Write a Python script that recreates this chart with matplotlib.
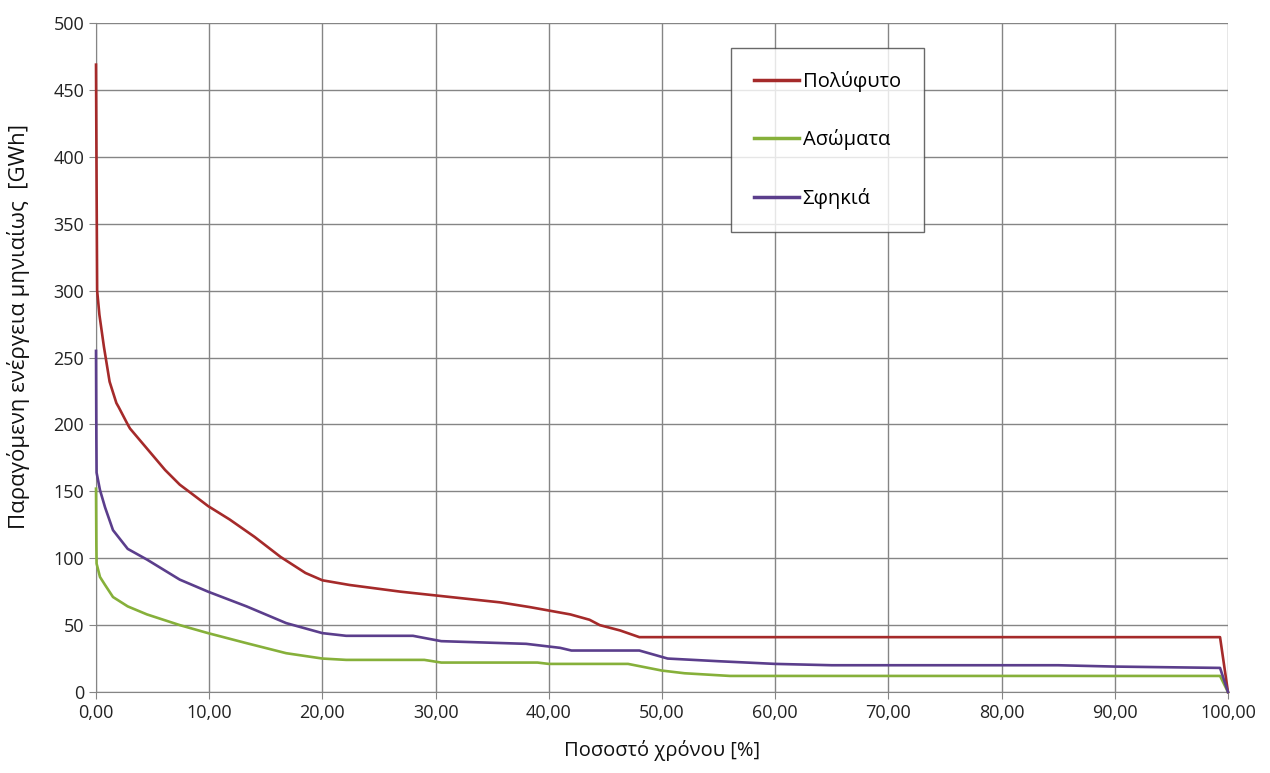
import matplotlib.pyplot as plt
from matplotlib.ticker import FuncFormatter

plt.rcParams['font.family'] = ['Open Sans', 'DejaVu Sans']

# Ποσοστό χρόνου [%] και ενέργεια [GWh]
x_poly = [0, 0.05, 0.1, 0.3, 0.5, 0.7, 1.2, 1.8, 2.0, 2.8, 3.0, 3.9, 5.0, 6.1, 7.4, 8.5, 9.9,
          11.8, 14.0, 16.3, 18.5, 20.0, 22.4, 26.9, 31.3, 35.7, 38.3, 41.9, 43.6, 44.5,
          46.3, 48.0, 60.0, 80.0, 99.3, 100.0]
y_poly = [469, 380, 300, 282, 270, 258, 232, 216, 213, 200, 197, 188, 177, 166, 155, 148, 139,
          129, 116, 101, 89, 83.5, 80, 75, 71, 67, 63.5, 58, 54, 50,
          46, 41, 41, 41, 41, 0]

x_asom = [0, 0.03, 0.05, 0.35, 0.8, 1.5, 2.8, 4.5, 7.4, 9.9, 13.3, 16.8, 20.0, 22.1,
          29.0, 30.5, 39.0, 40.0, 47.0, 50.0, 52.0, 56.0, 70.0, 99.3, 100.0]
y_asom = [152, 110, 96, 86, 80, 71, 64, 58, 50, 44, 36.5, 29, 25, 24,
          24, 22, 22, 21, 21, 16, 14, 12, 12, 12, 0]

x_sfik = [0, 0.03, 0.05, 0.35, 0.8, 1.5, 2.8, 4.5, 7.4, 9.9, 13.3, 16.8, 20.0, 22.1,
          28.0, 30.5, 38.0, 41.0, 42.0, 48.0, 50.5, 55.0, 60.0, 65.0, 85.0, 90.0, 99.3, 100.0]
y_sfik = [255, 190, 164, 151, 138, 121, 107, 99, 84, 75, 64, 51.5, 44, 42,
          42, 38, 36, 33, 31, 31, 25, 23, 21, 20, 20, 19, 18, 0]

fig = plt.figure(figsize=(12.7, 7.73), dpi=100)
ax = fig.add_axes([0.0756, 0.1048, 0.8913, 0.8652])

for xs, ys, c, lab in [(x_poly, y_poly, '#A52A2A', 'Πολύφυτο'),
                       (x_asom, y_asom, '#86B03A', 'Ασώματα'),
                       (x_sfik, y_sfik, '#5B3E8C', 'Σφηκιά')]:
    ax.plot(xs, ys, color=c, lw=1.9, label=lab, zorder=3, clip_on=False)

ax.set_xlim(0, 100)
ax.set_ylim(0, 500)
ax.set_xticks(range(0, 101, 10))
ax.set_yticks(range(0, 501, 50))
ax.xaxis.set_major_formatter(FuncFormatter(lambda v, p: f'{v:.2f}'.replace('.', ',')))
ax.grid(True, color='#858585', lw=1)
ax.set_axisbelow(True)
for s in ['top', 'right']:
    ax.spines[s].set_visible(False)
for s in ['left', 'bottom']:
    ax.spines[s].set_color('#858585')
    ax.spines[s].set_zorder(1)
ax.tick_params(axis='both', colors='#858585', labelcolor='#222222', labelsize=13, length=5)

ax.set_xlabel('Ποσοστό χρόνου [%]', fontsize=14.5, color='#111111', labelpad=13)
ax.set_ylabel('Παραγόμενη ενέργεια μηνιαίως  [GWh]', fontsize=16, color='#111111')
ax.yaxis.set_label_coords(-0.058, 0.546)

leg = ax.legend(loc='upper left', bbox_to_anchor=(0.561, 0.963), fontsize=14.5,
                frameon=True, fancybox=False, edgecolor='#444444', labelspacing=1.85,
                handlelength=2.2, handletextpad=0.2, borderpad=1.15, borderaxespad=0)
leg.get_frame().set_linewidth(1)
for h in leg.get_lines():
    h.set_linewidth(2.5)

plt.savefig('out.png', dpi=100)
